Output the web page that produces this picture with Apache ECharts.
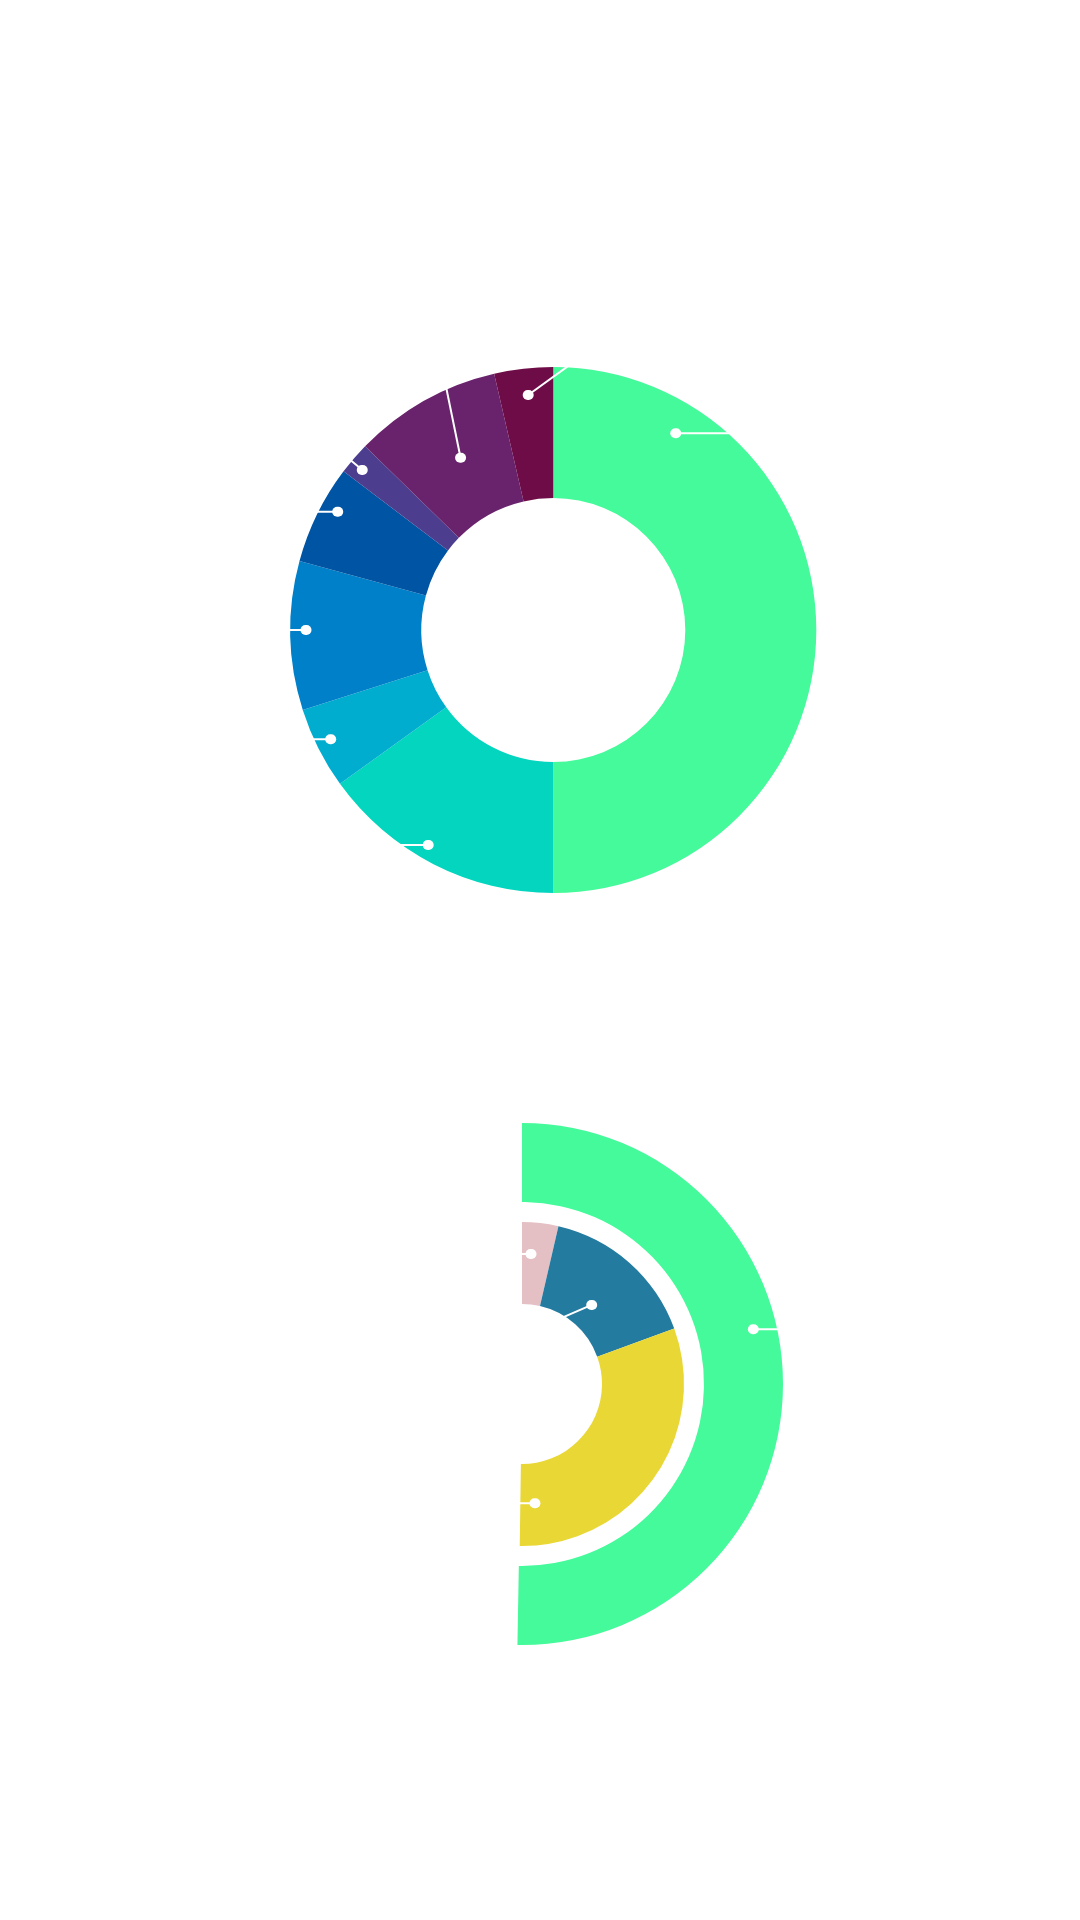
<!DOCTYPE html>
<html><head><meta charset="utf-8">
<script src="https://cdn.jsdelivr.net/npm/echarts@6/dist/echarts.min.js"></script>
<style>html,body{margin:0;padding:0;background:#fff}#c{width:1080px;height:1920px}</style>
</head><body><div id="c"></div>
<script>
// ---- data ----
const topNames = ['Segment 1','Segment 2','Segment 3','Segment 4','Segment 5','Segment 6','Segment 7','Segment 8'];
const topValues = [180, 54.2, 18.1, 32.9, 21.9, 7.2, 32.7, 13.0];
const innerNames = ['Part A','Part B','Part C'];
const innerValues = [13.0, 57.0, 110.8];
const innerHidden = [179.2];
const outerNames = ['Total'];
const outerValues = [181];
const outerHidden = [179];

// ---- styles ----
const topColors = ['#44fa9a','#03d5bf','#00adcf','#0080c8','#0054a4','#4d3d8f','#69236c','#6e0c47'];
const innerColors = ['#e4c0c4','#237ba0','#e9d735'];
const outerColors = ['#44fa9a'];
const topCenter = [553.3, 630], botCenter = [522, 1384];
// label guide decorations: [dotAngle, dotRadius, endAngle, endRadius] (clockwise from 12 o'clock)
const topGuides = [[31.9,231.7,41.4,262.2],[210.2,248.7,215.8,265],[243.85,248,245.5,263.7],[270,247.3,270,263.3],
  [298.75,245.9,296.7,263.1],[309.95,249.2,309.97,263],[331.7,195.6,336.05,262.6],[353.9,236.3,3.04,263.7]];
const innerGuides = [[3.96,130.3,356.9,130.2],[41.4,105.4,33.9,83.1],[173.8,120,183.8,119.6]];
const outerGuides = [[76.7,237.7,77.85,259.8]];

function polar(c, a, r){ const t=a*Math.PI/180; return [c[0]+r*Math.sin(t), c[1]-r*Math.cos(t)]; }
function guideLayout(center, guides){
  return function(p){
    const g = guides[p.dataIndex]; if(!g) return {};
    const d = polar(center,g[0],g[1]); const e = polar(center,g[2],g[3]);
    const dx=e[0]-d[0], dy=e[1]-d[1], L=Math.hypot(dx,dy)||1;
    const e2=[e[0]+dx/L*6, e[1]+dy/L*6];
    return {x:d[0], y:d[1], align:'center', verticalAlign:'middle', labelLinePoints:[d, e2]};
  };
}
const dotLabel = {show:true, position:'outside', formatter:'{dot| }',
  rich:{dot:{width:11,height:10,borderRadius:5,backgroundColor:'#fff',color:'#fff'}}};
const guideLine = {show:true, length:5, length2:5, lineStyle:{color:'#fff', width:2}};
const clear = {color:'rgba(0,0,0,0)', borderWidth:0};

function visible(name, center, radius, names, values, colors, hidden){
  const data = names.map((n,i)=>({name:n, value:values[i], itemStyle:{color:colors[i], borderWidth:0}}));
  if(hidden) data.push({name:'rest', value:hidden[0], itemStyle:clear});
  return {type:'pie', name, center, radius, startAngle:90, silent:true, label:{show:false}, labelLine:{show:false},
    itemStyle:{borderWidth:0, borderRadius:0}, emphasis:{disabled:true}, data, z:2};
}
function helper(name, center, radius, names, values, guides, hidden){
  const data = names.map((n,i)=>({name:n, value:values[i]}));
  if(hidden) data.push({name:'rest', value:hidden[0], label:{show:false}, labelLine:{show:false}});
  return {type:'pie', name, center, radius, startAngle:90, silent:true, z:5, avoidLabelOverlap:false,
    itemStyle:clear, emphasis:{disabled:true}, label:dotLabel, labelLine:guideLine,
    labelLayout:guideLayout(center, guides), data};
}
const chart = echarts.init(document.getElementById('c'));
chart.setOption({
  animation:false,
  backgroundColor:'#fff',
  series:[
    visible('top', topCenter, [132,263], topNames, topValues, topColors),
    visible('inner', botCenter, [80,162], innerNames, innerValues, innerColors, innerHidden),
    visible('outer', botCenter, [182,261], outerNames, outerValues, outerColors, outerHidden),
    helper('topLabels', topCenter, [132,263], topNames, topValues, topGuides),
    helper('innerLabels', botCenter, [80,162], innerNames, innerValues, innerGuides, innerHidden),
    helper('outerLabels', botCenter, [182,261], outerNames, outerValues, outerGuides, outerHidden)
  ]
});
</script></body></html>
